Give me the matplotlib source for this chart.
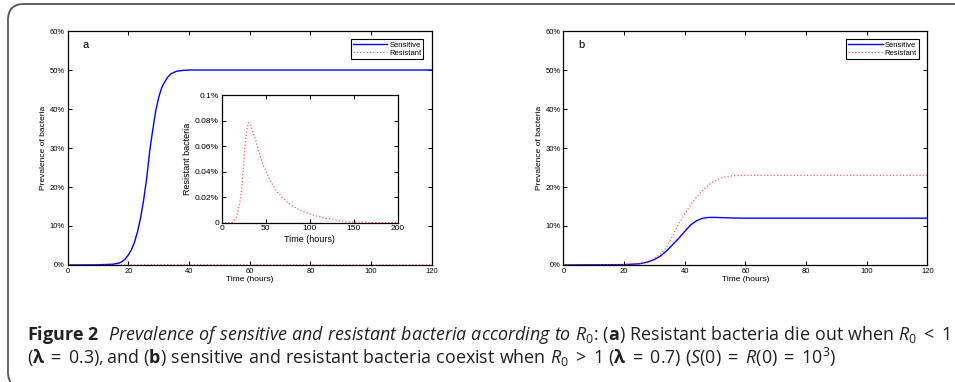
import matplotlib
matplotlib.use("Agg")
import matplotlib.pyplot as plt
from matplotlib.patches import FancyBboxPatch
from matplotlib.ticker import FuncFormatter, MultipleLocator

# panel a: lambda = 0.3 (values in %)
t_a_sens = [0, 10, 15, 17, 18, 19, 20, 21, 22, 23, 24, 25, 26, 27, 28, 29, 30,
            31, 32, 33, 34, 35, 36, 38, 40, 60, 120]
sens_a = [0, 0.05, 0.2, 0.5, 0.9, 1.6, 2.6, 3.9, 5.8, 8.5, 12, 16.5, 22, 29,
          34.5, 39.5, 43, 45.5, 47, 48.2, 49, 49.4, 49.7, 49.9, 50, 50, 50]
t_a_res = [0, 8, 11.4, 14, 17, 20, 22.7, 24.5, 26.5, 28.5, 30.3, 32, 34, 36.5,
           39.8, 43.5, 47.3, 51, 54.9, 62, 70, 77, 85.2, 92, 100.4, 110, 119,
           130, 142, 150, 170, 200]
res_a = [0, 0, 0, 0.0015, 0.0047, 0.013, 0.0256, 0.041, 0.0595, 0.072, 0.0783,
         0.078, 0.075, 0.069, 0.062, 0.053, 0.045, 0.039, 0.0334, 0.025, 0.019,
         0.0148, 0.0112, 0.0088, 0.0068, 0.0048, 0.0034, 0.002, 0.0008, 0.0005,
         0.0001, 0]

# panel b: lambda = 0.7 (values in %)
t_b = [0, 20, 25, 28, 30, 32, 34, 36, 38, 40, 42, 44, 46, 48, 50, 52, 54, 56,
       60, 120]
sens_b = [0, 0.1, 0.3, 0.8, 1.4, 2.3, 3.6, 5.2, 6.8, 8.6, 10.3, 11.4, 12.0,
          12.2, 12.2, 12.15, 12.1, 12.05, 12.0, 12.0]
res_b = [0, 0.1, 0.35, 0.9, 1.6, 2.7, 4.5, 7.5, 10.5, 13.0, 15.5, 17.5, 19.2,
         20.6, 21.6, 22.3, 22.7, 22.9, 23.0, 23.0]

plt.rcParams["font.family"] = ["Liberation Sans", "DejaVu Sans"]
plt.rcParams["mathtext.fontset"] = "custom"
plt.rcParams["mathtext.rm"] = "Open Sans"
plt.rcParams["mathtext.it"] = "Open Sans:italic"
plt.rcParams["mathtext.bf"] = "Open Sans:bold"

blue = "#0000ff"
red = "#ff3333"

fig = plt.figure(figsize=(9.55, 3.82), dpi=100)


def style_axes(ax, fs=5.5):
    ax.tick_params(direction="in", top=True, right=True, length=3, width=0.7,
                   labelsize=fs, pad=2)
    for sp in ax.spines.values():
        sp.set_linewidth(0.9)


pct = FuncFormatter(lambda v, p: "%d%%" % round(v))


def main_panel(rect, letter, t1, s1, t2, s2):
    ax = fig.add_axes(rect)
    ax.plot(t1, s1, color=blue, lw=1.0, label="Sensitive")
    ax.plot(t2, s2, color=red, lw=0.9, ls=":", alpha=0.8, label="Resistant")
    ax.set_xlim(0, 120)
    ax.set_ylim(0, 60)
    ax.xaxis.set_major_locator(MultipleLocator(20))
    ax.yaxis.set_major_locator(MultipleLocator(10))
    ax.yaxis.set_major_formatter(pct)
    style_axes(ax)
    ax.set_xlabel("Time (hours)", fontsize=6, labelpad=1)
    ax.set_ylabel("Prevalence of bacteria", fontsize=6, labelpad=2)
    ax.text(5, 56.5, letter, fontsize=8, va="center")
    leg = ax.legend(loc="upper right", fontsize=5.5, fancybox=False,
                    edgecolor="black", framealpha=1, handlelength=4.5,
                    borderaxespad=1.1, borderpad=0.25, labelspacing=0.15,
                    handletextpad=0.3)
    leg.get_frame().set_linewidth(0.8)
    return ax


main_panel([0.0709, 0.3063, 0.3812, 0.6125], "a", t_a_sens, sens_a,
           t_a_res, res_a)
main_panel([0.5899, 0.3063, 0.3812, 0.6125], "b", t_b, sens_b, t_b, res_b)

# inset of panel a
ins = fig.add_axes([0.2321, 0.417, 0.1843, 0.3343])
ins.plot(t_a_res, res_a, color=red, lw=0.9, ls=":", alpha=0.8)
ins.set_xlim(0, 200)
ins.set_ylim(0, 0.1)
ins.xaxis.set_major_locator(MultipleLocator(50))
ins.yaxis.set_major_locator(MultipleLocator(0.02))
ins.yaxis.set_major_formatter(
    FuncFormatter(lambda v, p: "0" if abs(v) < 1e-9 else "%g%%" % round(v, 2)))
style_axes(ins)
ins.tick_params(labelsize=6)
ins.set_xlabel("Time (hours)", fontsize=6.5, labelpad=2)
ins.set_ylabel("Resistant bacteria", fontsize=6.5, labelpad=2)

# rounded frame around figure + caption
frame = FancyBboxPatch((8, -6), 1000, 384, boxstyle="round,pad=0,rounding_size=16",
                       transform=None, fill=False, edgecolor="#555555", lw=1.3)
fig.add_artist(frame)


def seg(style, s):
    return r"\math%s{%s}" % (style, s.replace(" ", r"\ "))


R0 = seg("it", "R") + r"_{\mathrm{0}}"
EQ = r"\;=\;"
line1 = ("$" + seg("bf", "Figure 2") + r"\ \ " +
         seg("it", "Prevalence of sensitive and resistant bacteria according to ") +
         R0 + r"\colon\ " + seg("rm", "(") + seg("bf", "a") +
         seg("rm", ") Resistant bacteria die out when ") + R0 + r"\;<\;1$")
line2 = ("$" + seg("rm", "(") + seg("bf", "λ") + EQ + seg("rm", "0.3),and (") +
         seg("bf", "b") +
         seg("rm", ") sensitive and resistant bacteria coexist when ") + R0 +
         r"\;>\;1\ " + seg("rm", "(") + seg("bf", "λ") + EQ + seg("rm", "0.7) (") +
         seg("it", "S") + seg("rm", "(0)") + EQ + seg("it", "R") +
         seg("rm", "(0)") + EQ + seg("rm", "10") + r"^{\mathrm{3}}" +
         seg("rm", ")") + "$")
fig.text(27 / 955, 1 - 340 / 382, line1, fontsize=12.9, color="#231f20",
         va="baseline", ha="left")
fig.text(27 / 955, 1 - 364 / 382, line2, fontsize=12.9, color="#231f20",
         va="baseline", ha="left")

fig.savefig("out.png", dpi=100)
